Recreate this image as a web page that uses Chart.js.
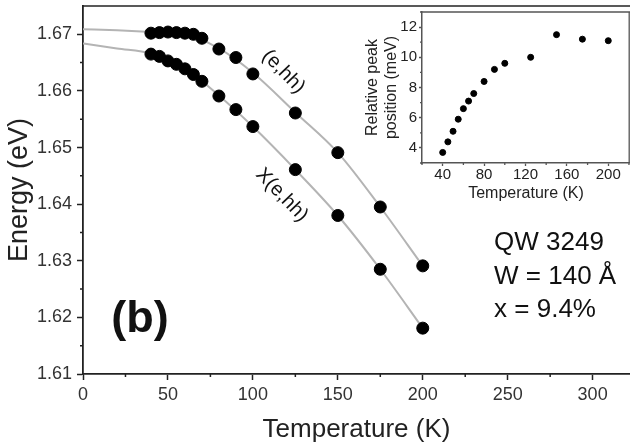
<!DOCTYPE html>
<html>
<head>
<meta charset="utf-8">
<script src="https://cdn.jsdelivr.net/npm/chart.js@4.4.1/dist/chart.umd.min.js"></script>
<style>
  html, body { margin: 0; padding: 0; background: #fff; }
  #wrap { position: relative; width: 630px; height: 446px; overflow: hidden; }
  #mainChart { position: absolute; left: 0; top: 0; }
  #insetChart { position: absolute; left: 350px; top: 0; }
</style>
</head>
<body>
<div id="wrap">
  <canvas id="mainChart" width="630" height="446"></canvas>
  <canvas id="insetChart" width="280" height="210"></canvas>
</div>
<script>
// main panel data
const temps = [40, 45, 50, 55, 60, 65, 70, 80, 90, 100, 125, 150, 175, 200];
const ehh = [1.6702, 1.6703, 1.6704, 1.6703, 1.6702, 1.6700, 1.6693, 1.6674, 1.6659, 1.6630, 1.6561, 1.6491, 1.6395, 1.6291];
const xehh = [1.6665, 1.6661, 1.6653, 1.6647, 1.6639, 1.6629, 1.6617, 1.6591, 1.6567, 1.6537, 1.6461, 1.6380, 1.6285, 1.6181];
// grey fitted curves
const fitTemps = [0, 20, 40, 60, 80, 100, 125, 150, 175, 200];
const ehhFit = [1.6709, 1.6707, 1.6704, 1.6700, 1.6675, 1.6632, 1.6562, 1.6491, 1.6395, 1.6291];
const xehhFit = [1.6684, 1.6675, 1.6666, 1.6640, 1.6592, 1.6537, 1.6461, 1.6380, 1.6285, 1.6181];
const xTicks = [0, 50, 100, 150, 200, 250, 300];
const xMinor = [25, 75, 125, 175, 225, 275];
const yTicks = [1.61, 1.62, 1.63, 1.64, 1.65, 1.66, 1.67];
const yMinor = [1.615, 1.625, 1.635, 1.645, 1.655, 1.665];

// inset data
const insetTemps = [40, 45, 50, 55, 60, 65, 70, 80, 90, 100, 125, 150, 175, 200];
const peakShift = [3.7, 4.4, 5.1, 5.9, 6.6, 7.1, 7.6, 8.4, 9.2, 9.6, 10.0, 11.5, 11.2, 11.1];
const insetXTicks = [40, 80, 120, 160, 200];
const insetXMinor = [20, 60, 100, 140, 180, 220];
const insetYTicks = [4, 6, 8, 10, 12];
const insetYMinor = [3, 5, 7, 9, 11, 13];

const FONT = "'Liberation Sans', Arial, sans-serif";
const pts = (xs, ys) => xs.map((x, i) => ({ x: x, y: ys[i] }));

// fixed axis box sizes, no extra label padding around the plot area
function fixBox(size) {
    return s => {
        if (s.isHorizontal()) s.height = size; else s.width = size;
        s.paddingLeft = s.paddingRight = s.paddingTop = s.paddingBottom = 0;
    };
}

// minor ticks + frame lines drawn from the scales
const minorTicks = {
    id: 'minorTicks',
    afterDraw(chart, args, opts) {
        const ctx = chart.ctx, xs = chart.scales.x, ys = chart.scales.y, a = chart.chartArea;
        ctx.save();
        ctx.strokeStyle = opts.color;
        ctx.lineWidth = opts.width;
        ctx.beginPath();
        opts.xMinor.forEach(v => {
            if (v < xs.min || v > xs.max) return;
            const px = xs.getPixelForValue(v);
            ctx.moveTo(px, a.bottom); ctx.lineTo(px, a.bottom + opts.len);
        });
        opts.yMinor.forEach(v => {
            if (v < ys.min || v > ys.max) return;
            const py = ys.getPixelForValue(v);
            ctx.moveTo(a.left, py); ctx.lineTo(a.left - opts.len, py);
        });
        ctx.stroke();
        ctx.beginPath();
        ctx.moveTo(a.left, a.top); ctx.lineTo(a.right, a.top);
        if (opts.box) { ctx.lineTo(a.right - 0.8, a.top); ctx.lineTo(a.right - 0.8, a.bottom); }
        ctx.stroke();
        ctx.restore();
    }
};

// text labels placed in data coordinates
const notes = {
    id: 'notes',
    afterDatasetsDraw(chart) {
        const ctx = chart.ctx, xs = chart.scales.x, ys = chart.scales.y;
        ctx.save();
        ctx.fillStyle = '#111';
        ctx.textBaseline = 'middle';
        ctx.font = 'bold 45px ' + FONT;
        ctx.textAlign = 'center';
        ctx.fillText('(b)', xs.getPixelForValue(33.5), ys.getPixelForValue(1.6196));
        ctx.font = '26px ' + FONT;
        ctx.textAlign = 'left';
        const lx = xs.getPixelForValue(242);
        ctx.fillText('QW 3249', lx, ys.getPixelForValue(1.6331));
        ctx.fillText('W = 140 Å', lx, ys.getPixelForValue(1.6272));
        ctx.fillText('x = 9.4%', lx, ys.getPixelForValue(1.6214));
        ctx.font = '20px ' + FONT;
        ctx.textAlign = 'center';
        [['(e,hh)', 118, 1.6634], ['X(e,hh)', 117, 1.6416]].forEach(([t, x, y]) => {
            ctx.save();
            ctx.translate(xs.getPixelForValue(x), ys.getPixelForValue(y));
            ctx.rotate(46 * Math.PI / 180);
            ctx.fillText(t, 0, 0);
            ctx.restore();
        });
        ctx.restore();
    }
};

new Chart(document.getElementById('mainChart'), {
    type: 'scatter',
    data: {
        datasets: [
            { label: 'e,hh fit', type: 'line', data: pts(fitTemps, ehhFit), borderColor: '#b4b4b4', borderWidth: 2, pointRadius: 0, cubicInterpolationMode: 'monotone', order: 2 },
            { label: 'X fit', type: 'line', data: pts(fitTemps, xehhFit), borderColor: '#b4b4b4', borderWidth: 2, pointRadius: 0, cubicInterpolationMode: 'monotone', order: 2 },
            { label: '(e,hh)', data: pts(temps, ehh), backgroundColor: '#000', borderColor: '#000', pointRadius: 6, order: 1 },
            { label: 'X(e,hh)', data: pts(temps, xehh), backgroundColor: '#000', borderColor: '#000', pointRadius: 6, order: 1 }
        ]
    },
    options: {
        responsive: false,
        animation: false,
        devicePixelRatio: 1,
        layout: { autoPadding: false, padding: { top: 6, right: 0, left: 0, bottom: 0 } },
        plugins: {
            legend: { display: false }, tooltip: { enabled: false },
            minorTicks: { xMinor: xMinor, yMinor: yMinor, len: 3, color: '#222', width: 1.5, box: false }
        },
        scales: {
            x: {
                type: 'linear', min: 0, max: 322,
                afterBuildTicks: s => { s.ticks = xTicks.map(v => ({ value: v })); },
                afterFit: fixBox(72),
                border: { color: '#222', width: 1.8 },
                grid: { drawOnChartArea: false, tickLength: 6, color: '#222', tickWidth: 1.5 },
                ticks: { color: '#333', font: { family: FONT, size: 18 }, padding: 4, maxRotation: 0 },
                title: { display: true, text: 'Temperature (K)', color: '#222', font: { family: FONT, size: 26 }, padding: { top: 0, bottom: 1 } }
            },
            y: {
                type: 'linear', min: 1.61, max: 1.675,
                afterBuildTicks: s => { s.ticks = yTicks.map(v => ({ value: v })); },
                afterFit: fixBox(83),
                border: { color: '#222', width: 1.8 },
                grid: { drawOnChartArea: false, tickLength: 6, color: '#222', tickWidth: 1.5 },
                ticks: { color: '#333', font: { family: FONT, size: 18 }, padding: 5, callback: v => v.toFixed(2) },
                title: { display: true, text: 'Energy (eV)', color: '#222', font: { family: FONT, size: 27 }, padding: { top: 3, bottom: 0 } }
            }
        }
    },
    plugins: [minorTicks, notes]
});

new Chart(document.getElementById('insetChart'), {
    type: 'scatter',
    data: {
        datasets: [
            { label: 'Relative peak position', data: pts(insetTemps, peakShift), backgroundColor: '#000', borderColor: '#000', pointRadius: 3 }
        ]
    },
    options: {
        responsive: false,
        animation: false,
        devicePixelRatio: 1,
        layout: { autoPadding: false, padding: { top: 12, right: 0, left: 0, bottom: 0 } },
        plugins: {
            legend: { display: false }, tooltip: { enabled: false },
            minorTicks: { xMinor: insetXMinor, yMinor: insetYMinor, len: 2, color: '#555', width: 1.3, box: true }
        },
        scales: {
            x: {
                type: 'linear', min: 20, max: 221,
                afterBuildTicks: s => { s.ticks = insetXTicks.map(v => ({ value: v })); },
                afterFit: fixBox(47),
                border: { color: '#555', width: 1.5 },
                grid: { drawOnChartArea: false, tickLength: 3, color: '#555', tickWidth: 1.3 },
                ticks: { color: '#222', font: { family: FONT, size: 15, lineHeight: 1 }, padding: 1, maxRotation: 0 },
                title: { display: true, text: 'Temperature (K)', color: '#222', font: { family: FONT, size: 16 }, padding: { top: 0, bottom: 7 } }
            },
            y: {
                type: 'linear', min: 3, max: 13,
                afterBuildTicks: s => { s.ticks = insetYTicks.map(v => ({ value: v })); },
                afterFit: fixBox(72),
                border: { color: '#555', width: 1.5 },
                grid: { drawOnChartArea: false, tickLength: 3, color: '#555', tickWidth: 1.3 },
                ticks: { color: '#222', font: { family: FONT, size: 15 }, padding: 2 },
                title: { display: true, text: ['Relative peak', 'position (meV)'], color: '#222', font: { family: FONT, size: 16 }, padding: { top: 13, bottom: 0 } }
            }
        }
    },
    plugins: [minorTicks]
});
</script>
</body>
</html>
